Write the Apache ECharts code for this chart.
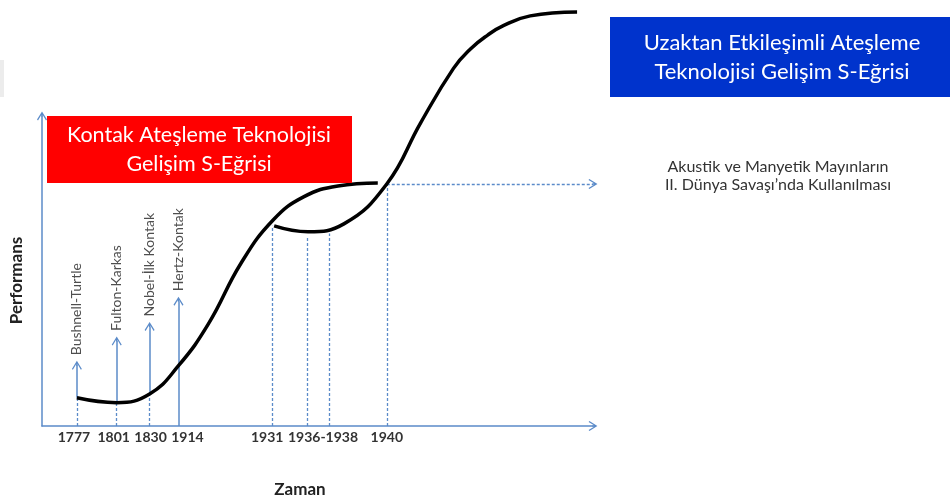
<!DOCTYPE html>
<html>
<head>
<meta charset="utf-8">
<script src="https://cdn.jsdelivr.net/npm/echarts@6/dist/echarts.min.js"></script>
<style>
  html, body { margin: 0; padding: 0; background: #fff; }
  #chart { width: 952px; height: 503px; }
</style>
</head>
<body>
<div id="chart"></div>
<script>
// zaman ekseni 0-100 (göreli konum), performans 0-100 (göreli)
const curve1X = [6.33, 13.56, 19.53, 24.77, 30.2, 36.17, 41.95, 47.56, 53.71, 60.94];
const curve1Y = [9.09, 7.52, 10.34, 19.44, 32.92, 52.66, 66.46, 73.98, 77.43, 78.37];
const curve2X = [42.13, 48.28, 54.79, 62.57, 68.72, 74.68, 77.76, 80.83, 83.73, 88.61, 97.11];
const curve2Y = [64.58, 62.7, 65.2, 78.06, 97.81, 115.36, 121.63, 126.02, 129.15, 132.29, 133.54];

// okla gösterilen gelişmeler
const eventNames = ["Bushnell-Turtle", "Fulton-Karkas", "Nobel-İlk Kontak", "Hertz-Kontak"];
const eventX = [6.33, 13.56, 19.53, 24.77];
const eventBase = [9.09, 7.52, 10.34, 0];
const eventTop = [19.59, 27.43, 32.13, 40.28];

// kesikli dikey çizgiler (1931, 1936, 1938, 1940)
const dropX = [41.77, 48.1, 52.08, 62.57];
const dropTop = [64.58, 61.13, 62.07, 78.06];
const level1940 = 78.06;

// eksen etiketleri
const tickX = [5.79, 13.02, 19.71, 26.4, 40.87, 51.0, 62.57];
const tickLabels = ["1777", "1801", "1830", "1914", "1931", "1936-1938", "1940"];

const blue = "#5b8bc9";
const chevron = "path://M0,80 L50,0 L100,80 L90,88 L50,22 L10,88 Z M43,10 L57,10 L57,50 L43,50 Z";

const chart = echarts.init(document.getElementById("chart"));

const solidArrows = eventX.map((x, i) => [
  { coord: [x, eventBase[i]] },
  { coord: [x, eventTop[i]] }
]);
const dashedLines = [];
eventX.forEach((x, i) => {
  if (eventBase[i] > 0) dashedLines.push([{ coord: [x, 0] }, { coord: [x, eventBase[i]] }]);
});
dropX.forEach((x, i) => {
  dashedLines.push([{ coord: [x, 0] }, { coord: [x, dropTop[i]] }]);
});

chart.setOption({
  animation: false,
  textStyle: { fontFamily: "Lato" },
  grid: { left: 40, right: 359, top: 116, bottom: 68 },
  xAxis: {
    type: "value",
    min: 0,
    max: 100,
    name: "Zaman",
    nameLocation: "middle",
    nameGap: 55,
    nameTextStyle: { fontSize: 17, fontWeight: "bold", color: "#222", padding: [0, 35, 0, 0] },
    axisLine: {
      show: true,
      symbol: ["none", chevron],
      symbolSize: [10, 9],
      lineStyle: { color: blue, width: 1.5 }
    },
    axisTick: { show: false },
    splitLine: { show: false },
    axisLabel: {
      customValues: tickX,
      formatter: v => tickLabels[tickX.indexOf(v)],
      margin: 4,
      fontSize: 14,
      fontWeight: "bold",
      color: "#333"
    }
  },
  yAxis: {
    type: "value",
    min: 0,
    max: 100,
    name: "Performans",
    nameLocation: "middle",
    nameRotate: 90,
    nameGap: 17,
    nameTextStyle: { fontSize: 17, fontWeight: "bold", color: "#222", padding: [0, 19, 0, 0] },
    axisLine: {
      show: true,
      symbol: ["none", chevron],
      symbolSize: [10, 9],
      lineStyle: { color: blue, width: 1.5 }
    },
    axisTick: { show: false },
    axisLabel: { show: false },
    splitLine: { show: false }
  },
  series: [
    {
      name: "Kontak",
      type: "line",
      smooth: 0.45,
      showSymbol: false,
      clip: false,
      lineStyle: { color: "#000", width: 3.5 },
      data: curve1X.map((x, i) => [x, curve1Y[i]]),
      z: 5
    },
    {
      name: "Uzaktan",
      type: "line",
      smooth: 0.45,
      showSymbol: false,
      clip: false,
      lineStyle: { color: "#000", width: 3.5 },
      data: curve2X.map((x, i) => [x, curve2Y[i]]),
      z: 5
    },
    {
      name: "Olaylar",
      type: "scatter",
      symbolSize: 0,
      data: eventX.map((x, i) => ({ value: [x, eventTop[i]], name: eventNames[i] })),
      label: {
        show: true,
        formatter: "{b}",
        position: "top",
        distance: 10,
        rotate: 90,
        align: "left",
        verticalAlign: "middle",
        fontSize: 14,
        color: "#222"
      },
      markLine: {
        silent: true,
        symbol: ["none", chevron],
        symbolSize: [10, 9],
        label: { show: false },
        lineStyle: { color: blue, width: 1.5, type: "solid" },
        data: solidArrows
      }
    },
    {
      name: "kesikli",
      type: "line",
      data: [],
      markLine: {
        silent: true,
        symbol: "none",
        label: { show: false },
        lineStyle: { color: blue, width: 1.3, type: [3, 2] },
        data: dashedLines
      }
    },
    {
      name: "1940",
      type: "line",
      data: [],
      markLine: {
        silent: true,
        symbol: ["none", chevron],
        symbolSize: [10, 9],
        label: { show: false },
        lineStyle: { color: blue, width: 1.3, type: [3, 2] },
        data: [[{ coord: [62.57, level1940] }, { coord: [100, level1940] }]]
      }
    }
  ],
  graphic: [
    {
      type: "rect",
      shape: { x: 0, y: 60, width: 4, height: 37 },
      style: { fill: "#ececec" },
      silent: true
    },
    {
      type: "rect",
      shape: { x: 47, y: 116, width: 305, height: 67 },
      style: { fill: "#ff0000" },
      z: 10
    },
    {
      type: "text",
      x: 199,
      y: 150,
      z: 11,
      style: {
        text: "Kontak Ateşleme Teknolojisi\nGelişim S-Eğrisi",
        fill: "#fff",
        font: "21.5px Lato",
        lineHeight: 29,
        align: "center",
        verticalAlign: "middle"
      }
    },
    {
      type: "rect",
      shape: { x: 610, y: 17, width: 340, height: 80 },
      style: { fill: "#0033cc" },
      z: 10
    },
    {
      type: "text",
      x: 782,
      y: 57,
      z: 11,
      style: {
        text: "Uzaktan Etkileşimli Ateşleme\nTeknolojisi Gelişim S-Eğrisi",
        fill: "#fff",
        font: "22px Lato",
        lineHeight: 29,
        align: "center",
        verticalAlign: "middle"
      }
    },
    {
      type: "text",
      x: 778,
      y: 176,
      style: {
        text: "Akustik ve Manyetik Mayınların\nII. Dünya Savaşı’nda Kullanılması",
        fill: "#333",
        font: "16px Lato",
        lineHeight: 18,
        align: "center",
        verticalAlign: "middle"
      }
    }
  ]
});
</script>
</body>
</html>
